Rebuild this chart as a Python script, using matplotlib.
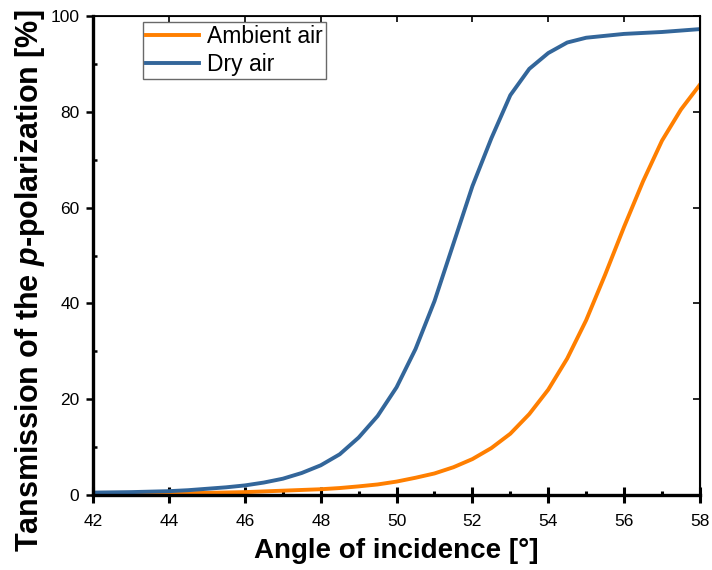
import matplotlib
matplotlib.use("Agg")
import matplotlib.pyplot as plt
from matplotlib.ticker import MultipleLocator

# ── data ────────────────────────────────────────────────────────────────────
angle = [42, 42.5, 43, 43.5, 44, 44.5, 45, 45.5, 46, 46.5, 47, 47.5, 48, 48.5,
         49, 49.5, 50, 50.5, 51, 51.5, 52, 52.5, 53, 53.5, 54, 54.5, 55, 55.5,
         56, 56.5, 57, 57.5, 58]
dry_air = [0.5, 0.55, 0.6, 0.7, 0.8, 1.0, 1.3, 1.6, 2.0, 2.6, 3.4, 4.6, 6.2, 8.5,
           12.0, 16.5, 22.5, 30.5, 40.5, 52.5, 64.5, 74.5, 83.5, 89.0, 92.3, 94.5,
           95.5, 95.9, 96.3, 96.5, 96.7, 97.0, 97.3]
ambient_air = [0.2, 0.22, 0.25, 0.28, 0.32, 0.38, 0.45, 0.52, 0.6, 0.75, 0.9, 1.05, 1.2,
               1.45, 1.8, 2.2, 2.8, 3.6, 4.5, 5.8, 7.5, 9.8, 12.8, 16.9, 22.0, 28.5,
               36.5, 46.0, 56.0, 65.5, 74.0, 80.5, 85.7]

plt.rcParams["font.family"] = ["Liberation Sans", "DejaVu Sans"]
plt.rcParams["mathtext.fontset"] = "custom"
plt.rcParams["mathtext.it"] = "Liberation Sans:italic:bold"
plt.rcParams["mathtext.rm"] = "Liberation Sans:bold"

fig = plt.figure(figsize=(7.12, 5.70), dpi=100)
ax = fig.add_axes([0.131, 0.1316, 0.852, 0.840])

ax.plot(angle, ambient_air, color="#FF7F00", lw=2.8, label="Ambient air")
ax.plot(angle, dry_air, color="#33669A", lw=2.8, label="Dry air")

ax.set_xlim(42, 58)
ax.set_ylim(0, 100)
ax.xaxis.set_major_locator(MultipleLocator(2))
ax.xaxis.set_minor_locator(MultipleLocator(1))
ax.yaxis.set_major_locator(MultipleLocator(20))
ax.yaxis.set_minor_locator(MultipleLocator(10))

ax.spines["top"].set_linewidth(1.3)
ax.spines["right"].set_linewidth(1.5)
ax.spines["bottom"].set_linewidth(2.4)
ax.spines["left"].set_linewidth(2.4)

# bottom: major ticks cross the axis, minor point inwards
ax.tick_params(axis="x", which="major", direction="inout", length=11, width=2.2,
               labelsize=12.5, pad=8.5)
ax.tick_params(axis="x", which="minor", direction="in", length=3, width=2.2)
# left: major ticks outwards, minor inwards
ax.tick_params(axis="y", which="major", direction="out", length=5, width=1.8,
               labelsize=12.5, pad=5)
ax.tick_params(axis="y", which="minor", direction="in", length=3, width=1.8)
ax.tick_params(top=False, right=False)

# top/right: inward major ticks only
sec_x = ax.secondary_xaxis("top")
sec_x.set_xticks(range(42, 59, 2))
sec_x.tick_params(direction="in", length=4.5, width=1.2, labeltop=False)
sec_y = ax.secondary_yaxis("right")
sec_y.set_yticks(range(0, 101, 20))
sec_y.tick_params(direction="in", length=5, width=1.2, labelright=False)

ax.set_xlabel("Angle of incidence [°]", fontsize=20, fontweight="bold", labelpad=6)
ax.set_ylabel(r"Tansmission of the $\mathit{p}$-polarization [%]",
              fontsize=22, fontweight="bold")
ax.yaxis.set_label_coords(-0.077, 0.447)

leg = ax.legend(loc="upper left", bbox_to_anchor=(0.082, 0.988), fontsize=16.5,
                frameon=True, fancybox=False, borderpad=0.15, handlelength=2.3,
                handletextpad=0.35, labelspacing=0.2, borderaxespad=0)
leg.get_frame().set_edgecolor("#444444")
leg.get_frame().set_linewidth(1.0)

fig.savefig("out.png", dpi=100)
